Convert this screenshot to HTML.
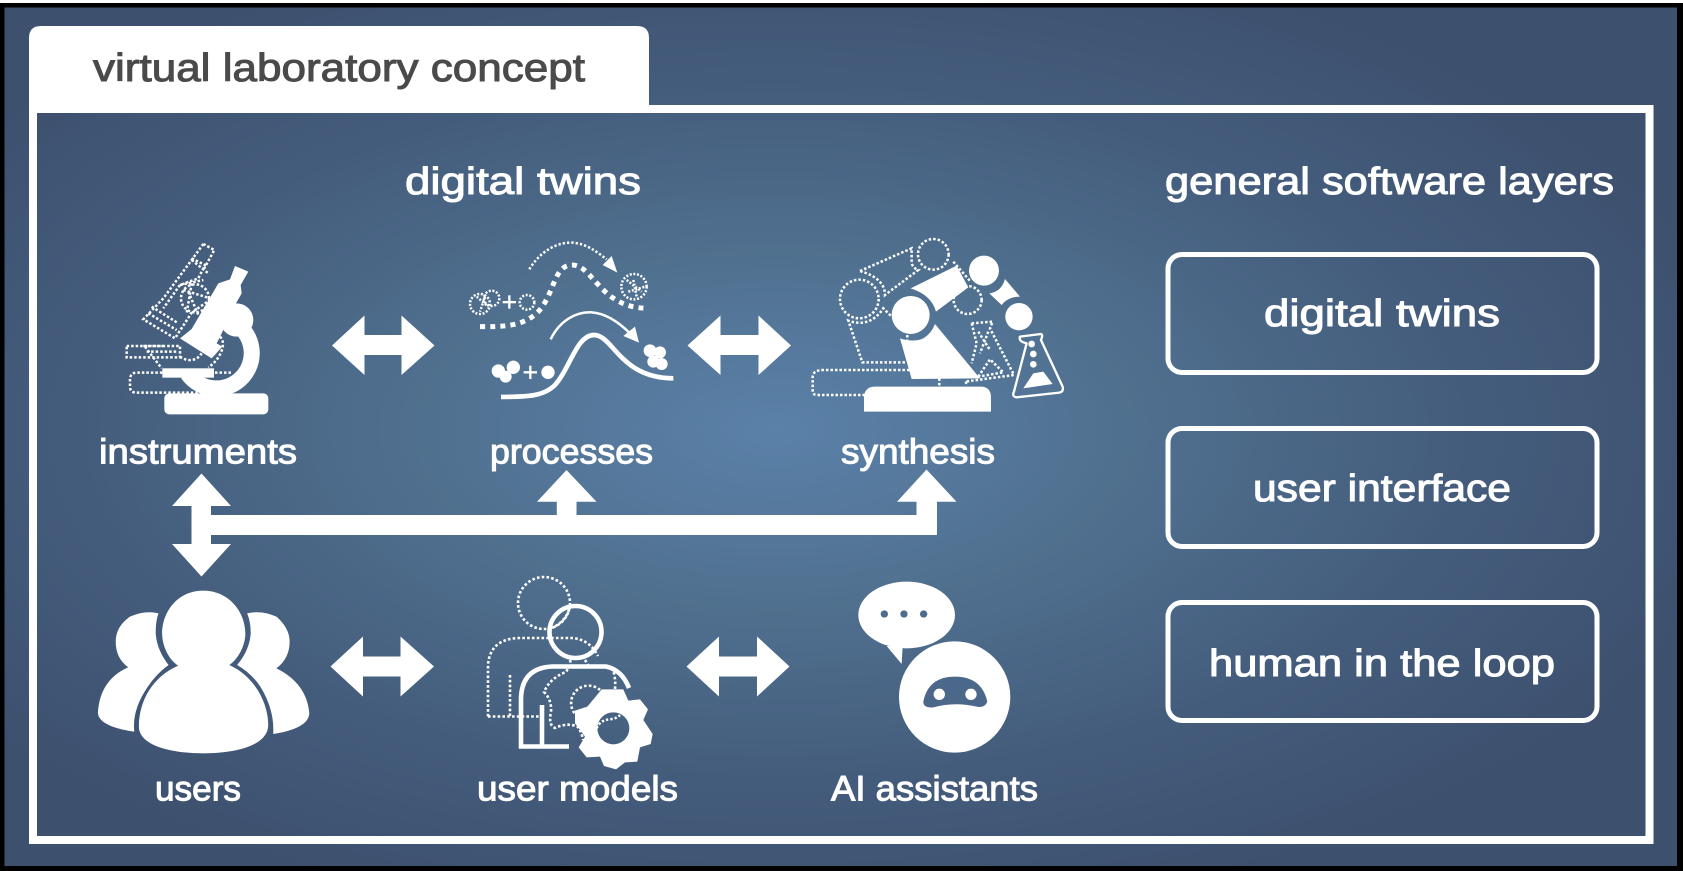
<!DOCTYPE html>
<html><head><meta charset="utf-8"><style>
html,body{margin:0;padding:0;background:#fff}
svg{display:block}
text{font-family:"Liberation Sans",sans-serif;font-weight:400}
.t{fill:#fff;stroke:#fff;stroke-width:1}
.d{fill:none;stroke:#fff;stroke-width:7.5;stroke-dasharray:7.5 6}
</style></head><body>
<svg xmlns="http://www.w3.org/2000/svg" width="1683" height="871" viewBox="0 0 1683 871">
<defs>
<radialGradient id="bg" gradientUnits="userSpaceOnUse" cx="0" cy="0" r="1" gradientTransform="translate(775 430) scale(1000 500)">
<stop offset="0" stop-color="#5b81a9"/><stop offset=".35" stop-color="#50708f"/><stop offset=".7" stop-color="#445c7c"/><stop offset="1" stop-color="#3d506e"/>
</radialGradient>
</defs>
<rect width="1683" height="871" fill="#fff"/>
<rect x="0" y="3" width="1683" height="868" fill="url(#bg)"/>
<rect x="0" y="3" width="1683" height="4.5" fill="#000"/>
<rect x="0" y="866" width="1683" height="5" fill="#000"/>
<rect x="0" y="3" width="4.5" height="868" fill="#000"/>
<rect x="1677" y="3" width="6" height="868" fill="#000"/>

<rect x="33" y="109" width="1616.5" height="731" fill="none" stroke="#fff" stroke-width="8"/>
<path d="M29 113V38Q29 26 41 26H637Q649 26 649 38V113H37V113Z" fill="#fff"/>
<path d="M649 105V113H37V113Z" fill="#fff"/>
<rect x="649" y="105" width="1004" height="8" fill="#fff"/>

<text x="93" y="81" font-size="39" textLength="492" lengthAdjust="spacingAndGlyphs" fill="#4a4a4a" stroke="#4a4a4a" stroke-width="1">virtual laboratory concept</text>
<text class="t" x="405" y="194" font-size="38" textLength="236" lengthAdjust="spacingAndGlyphs">digital twins</text>
<text class="t" x="1165" y="194" font-size="38" textLength="449" lengthAdjust="spacingAndGlyphs">general software layers</text>

<g fill="none" stroke="#fff" stroke-width="5">
<rect x="1168" y="254.5" width="429" height="118" rx="14"/>
<rect x="1168" y="428.5" width="429" height="118" rx="14"/>
<rect x="1168" y="602.5" width="429" height="118" rx="14"/>
</g>
<text class="t" x="1264" y="326" font-size="38" textLength="236" lengthAdjust="spacingAndGlyphs">digital twins</text>
<text class="t" x="1253" y="501" font-size="38" textLength="258" lengthAdjust="spacingAndGlyphs">user interface</text>
<text class="t" x="1209" y="676" font-size="38" textLength="346" lengthAdjust="spacingAndGlyphs">human in the loop</text>

<text class="t" x="99" y="463.5" font-size="35" textLength="198" lengthAdjust="spacingAndGlyphs">instruments</text>
<text class="t" x="490" y="463.5" font-size="35" textLength="163" lengthAdjust="spacingAndGlyphs">processes</text>
<text class="t" x="841" y="463.5" font-size="35" textLength="154" lengthAdjust="spacingAndGlyphs">synthesis</text>
<text class="t" x="155" y="800.5" font-size="35" textLength="86" lengthAdjust="spacingAndGlyphs">users</text>
<text class="t" x="477" y="800.5" font-size="35" textLength="201" lengthAdjust="spacingAndGlyphs">user models</text>
<text class="t" x="831" y="800.5" font-size="35" textLength="207" lengthAdjust="spacingAndGlyphs">AI assistants</text>

<!-- arrows -->
<g fill="#fff">
<path d="M332 345.5L364.5 315.5V335H401.5V315.5L434.5 345.5L401.5 375V355H364.5V375Z"/>
<path d="M687.5 345.5L720.5 315.5V335H758.5V315.5L791 345.5L758.5 375V355H720.5V375Z"/>
<path d="M330.5 666.5L363 636.5V656.5H400.5V636.5L434 666.5L400.5 696.5V676.5H363V696.5Z"/>
<path d="M686.5 666.5L719 636.5V656.5H757V636.5L789.5 666.5L757 696.5V676.5H719V696.5Z"/>
<path d="M201.5 473.5L231 506H211V515H556.8V501.7H537L566.5 470L596.5 501.7H576.5V515H916.5V501.7H897L926.5 469.5L956.5 501.7H937V535H211V544H231L201.5 576.5L172 544H191.5V506H172Z"/>
</g>

<!-- microscope -->
<g transform="translate(120 230) scale(.3333)">
<g class="d">
<path d="M250 42L283 60L250 120"/>
<path d="M250 42L215 90L130 205L70 268L165 325L215 248L272 208"/>
<path d="M215 85L255 105L235 145L180 165L130 235"/>
<path d="M95 230L175 280M85 250L170 300"/>
<circle cx="225" cy="205" r="42"/>
<path d="M180 165L250 150M205 185L235 255M215 90L265 130M190 180L270 205M215 160L200 250"/>
<path d="M20 348H180V382H20Z"/>
<path d="M75 350L125 415M70 348H130M80 365H170"/>
<path d="M180 380C200 395 230 395 245 370"/>
<path d="M300 320C322 340 300 390 265 412"/>
<path d="M285 428H335"/>
<path d="M127 428H50Q30 428 30 450V470Q30 488 50 488H235"/>
</g>
<g fill="#fff">
<rect x="133" y="490" width="312" height="63" rx="15"/>
<rect x="127" y="415" width="155" height="28"/>
<path d="M343 278A106 106 0 1 1 203 431" fill="none" stroke="#fff" stroke-width="48"/>
<circle cx="350" cy="270" r="50"/>
<path d="M345 108L385 125L362 165L365 190L345 225L305 310L290 340L307 350L275 385L180 325L215 297L295 160L330 148Z"/>
</g>
</g>

<!-- processes -->
<g transform="translate(460 230) scale(.3333)">
<path d="M123 501C200 500 250 500 285 465C330 415 350 315 402 315C460 315 480 445 640 445" fill="none" stroke="#fff" stroke-width="14"/>
<path d="M272 328C300 270 350 245 395 247C440 250 480 280 510 310" fill="none" stroke="#fff" stroke-width="7.5"/>
<path d="M537 338L490 318L525 290ZM472 128L428 105L455 78Z" fill="#fff"/>
<g fill="#fff">
<circle cx="115" cy="423" r="20"/><circle cx="160" cy="412" r="20"/><circle cx="137" cy="440" r="18"/>
<rect x="191" y="423.5" width="40" height="7"/><rect x="207.5" y="407" width="7" height="40"/>
<circle cx="264" cy="427" r="20"/>
<circle cx="570" cy="362" r="19"/><circle cx="600" cy="367" r="18"/><circle cx="580" cy="395" r="18"/><circle cx="605" cy="402" r="18"/>
<rect x="128" y="213" width="40" height="7"/><rect x="144.5" y="196" width="7" height="40"/>
</g>
<path d="M60 290C130 290 190 290 235 245C285 190 280 105 337 105C400 105 420 235 565 235" fill="none" stroke="#fff" stroke-width="15" stroke-dasharray="15 15.5"/>
<path d="M208 118C240 65 290 35 340 38C380 42 410 65 440 88" class="d" style="stroke-dasharray:7 6"/>
<g class="d" style="stroke-dasharray:6 5">
<circle cx="60" cy="222" r="30"/><circle cx="95" cy="205" r="23"/><circle cx="201" cy="217" r="22"/><circle cx="522" cy="170" r="38"/>
<path d="M500 150L545 185M520 150L530 200M505 185L555 170M50 200L85 230M75 200L60 245"/>
</g>
</g>

<!-- synthesis -->
<g transform="translate(700 200) scale(.3333)">
<g class="d">
<path d="M495 585H350Q338 585 338 570V530Q340 510 370 510H630"/>
<path d="M615 487H487L445 362Q510 385 550 325L575 350"/>
<circle cx="478" cy="297" r="58"/>
<path d="M480 213L635 145V190Q640 205 655 210L555 285Q555 235 480 213"/>
<circle cx="700" cy="163" r="46"/>
<circle cx="803" cy="300" r="42"/>
<path d="M760 185L812 245"/>
<path d="M815 370L878 365L870 385L942 525L795 545L805 555"/>
<path d="M815 370L830 430L815 490"/>
<path d="M835 530L870 478L910 517Z"/>
<path d="M835 395L870 450M865 395L840 460"/>
<path d="M718 535V560M622 405V420"/>
</g>
<g fill="#fff">
<path d="M492 635V590Q495 560 525 560H845Q872 562 873 590V635Z"/>
<path d="M600 415Q640 428 670 415Q695 400 705 372L840 535L635 537Z"/>
<circle cx="632" cy="345" r="57"/>
<path d="M632 265L770 197L805 262L708 335Q695 285 632 265Z"/>
<circle cx="852" cy="212" r="45"/>
<path d="M915 237L960 290Q925 290 905 315L868 280Q905 275 915 237Z"/>
<circle cx="957" cy="350" r="41"/>
<path d="M970 565L1000 520L1030 515L1058 552Z"/>
<circle cx="995" cy="432" r="10"/><circle cx="1000" cy="462" r="10"/><circle cx="1000" cy="493" r="10"/>
</g>
<path d="M960 410L1023 402Q1030 404 1023 420L1088 560Q1092 575 1078 578L950 592Q935 590 942 575L980 430Q955 425 960 410Z" fill="none" stroke="#fff" stroke-width="7" stroke-linejoin="round"/>
</g>

<!-- users -->
<g transform="translate(80 470) scale(.35714 .33333)" fill="#fff">
<path d="M220 430Q180 420 140 440Q100 470 100 515Q100 565 135 592Q55 630 50 730Q55 770 152 785Q145 720 190 650Q215 610 248 585Q215 540 212 490Q212 450 220 430Z"/>
<path d="M468 430Q510 420 550 440Q587 475 587 515Q587 565 550 595Q635 640 642 730Q640 775 541 792Q545 720 505 650Q480 610 440 585Q475 540 478 490Q478 455 468 430Z"/>
<path d="M345 362C420 362 463 430 463 490C463 530 440 570 418 585C490 620 527 700 527 765C527 825 440 850 345 850C250 850 165 825 165 770C165 690 205 620 275 587C250 570 230 530 230 490C230 430 270 362 345 362Z"/>
</g>

<!-- user models -->
<g fill="none" stroke="#fff">
<g style="stroke-width:2.6;stroke-dasharray:2.6 2.2">
<circle cx="544" cy="603" r="26"/>
<path d="M488 716.5V665Q490 639 519 638H573Q590 640 598 656"/>
<path d="M488 716.5H540M510 675V716.5"/>
<path d="M570 605Q568 620 552 628"/>
<path d="M570 665L566 672Q550 678 544 692Q552 700 551 712Q548 725 555 728Q568 722 578 727Q582 733 583 740"/>
<path d="M615 689Q616 676 612 668M600 690A17 17 0 1 0 577 716"/>
<path d="M570 660L572 668M585 660L590 668"/>
</g>
<circle cx="575.5" cy="632" r="26" stroke-width="4.6"/>
<path d="M569 746.5H521V698Q522 668 552 666.5H606Q622 670 629 688" stroke-width="4.6"/>
<path d="M542 705V746.5" stroke-width="4.6"/>
</g>
<g transform="translate(530 640) scale(.3333)">
<path fill="#fff" fill-rule="evenodd" d="M215 148L280 148L295 182L330 178L354 208L340 240L368 282L362 312L330 322L322 365L285 367L258 388L222 378L210 350L170 352L146 322L165 290L135 250L135 212L172 200ZM250 217A48 48 0 1 0 250.1 313A48 48 0 1 0 250 217Z"/>
<path d="M200 265Q210 240 240 238Q262 235 270 225" class="d" style="stroke-dasharray:7 6"/>
</g>

<!-- AI assistants -->
<g transform="translate(660 560) scale(.3333)">
<ellipse cx="740" cy="165" rx="145" ry="100" fill="#fff"/>
<path d="M680 258L725 312L728 260Z" fill="#fff"/>
<g fill="#4e6c8f"><circle cx="673" cy="162" r="11"/><circle cx="732" cy="162" r="11"/><circle cx="791" cy="162" r="11"/></g>
<circle cx="884" cy="411" r="167" fill="#fff"/>
<path d="M790 425Q805 350 885 350Q965 350 982 425Q975 445 950 440Q885 425 820 442Q790 445 790 425Z" fill="#4b688a"/>
<circle cx="838" cy="403" r="17" fill="#fff"/><circle cx="933" cy="403" r="17" fill="#fff"/>
</g>
</svg>
</body></html>
